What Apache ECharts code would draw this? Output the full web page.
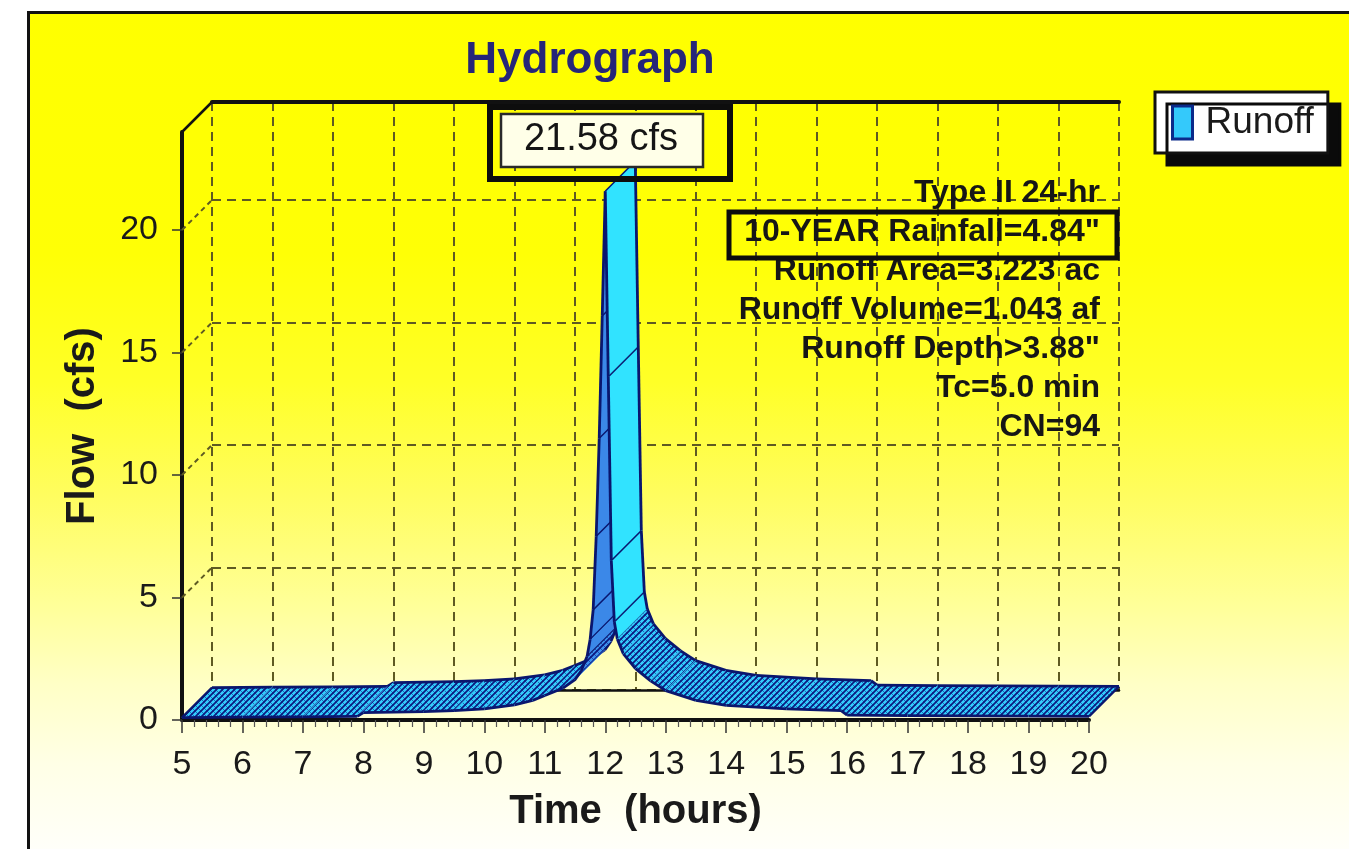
<!DOCTYPE html>
<html>
<head>
<meta charset="utf-8">
<title>Hydrograph</title>
<script src="https://cdn.jsdelivr.net/npm/echarts@6/dist/echarts.min.js"></script>
<style>
  html, body { margin: 0; padding: 0; background: #ffffff; }
  #frame {
    position: absolute; left: 27px; top: 11px; width: 1340px; height: 850px;
    border-left: 3px solid #111; border-top: 3px solid #111;
    background: linear-gradient(to bottom,
      #ffff00 0px, #ffff06 240px, #ffff28 370px, #fffd5e 480px,
      #ffff98 590px, #ffffc6 670px, #ffffe6 750px, #fffffa 838px);
  }
  #chart { position: absolute; left: 0; top: 0; width: 1349px; height: 849px; }
</style>
</head>
<body>
<div id="frame"></div>
<div id="chart"></div>
<script>
// ---- data -------------------------------------------------------------
const hours = [5.0, 6.0, 7.0, 7.9, 8.0, 9.0, 9.5, 10.0, 10.5, 10.8, 11.0, 11.3, 11.5, 11.6,
               11.7, 11.75, 11.8, 11.85, 11.9, 11.95, 12.0, 12.05, 12.1, 12.15, 12.2, 12.3,
               12.5, 12.75, 13.0, 13.5, 14.0, 15.0, 15.9, 16.0, 17.0, 18.0, 19.0, 20.0];
const flow  = [0.10, 0.12, 0.13, 0.15, 0.30, 0.34, 0.38, 0.45, 0.62, 0.80, 1.00, 1.30, 1.65, 2.00,
               2.60, 3.30, 4.50, 7.50, 11.5, 16.5, 21.58, 14.0, 6.50, 4.00, 3.30, 2.70,
               2.10, 1.60, 1.20, 0.80, 0.60, 0.45, 0.38, 0.20, 0.18, 0.17, 0.16, 0.15];
const xTickLabels = [5, 6, 7, 8, 9, 10, 11, 12, 13, 14, 15, 16, 17, 18, 19, 20];
const yTicks = [0, 5, 10, 15, 20];
const infoLines = [
  'Type II 24-hr',
  '10-YEAR Rainfall=4.84"',
  'Runoff Area=3.223 ac',
  'Runoff Volume=1.043 af',
  'Runoff Depth>3.88"',
  'Tc=5.0 min',
  'CN=94'
];
const seriesName = 'Runoff';
const flowUnit = 'cfs';

// ---- layout -----------------------------------------------------------
const FONT = '"Liberation Sans", Arial, sans-serif';
const DX = 30, DY = -30;          // depth offset of the back wall, px
const X_MIN = 5, X_MAX = 20, Y_MAX = 24;
const FRONT = { left: 182, top: 132, width: 907, height: 588 };
const BACK  = { left: FRONT.left + DX, top: FRONT.top + DY, width: FRONT.width, height: FRONT.height };

const gridLine = { color: '#5e5a22', width: 2, type: [9, 6] };

// hatched fills for the ribbon faces
function hatch(base, ink, faint) {
  const s = 6;
  const c = document.createElement('canvas');
  c.width = s; c.height = s;
  const g = c.getContext('2d');
  g.fillStyle = base; g.fillRect(0, 0, s, s);
  g.strokeStyle = faint; g.lineWidth = 1;
  g.beginPath();
  g.moveTo(0, 0); g.lineTo(s, s);
  g.moveTo(-1, s - 1); g.lineTo(1, s + 1);
  g.moveTo(s - 1, -1); g.lineTo(s + 1, 1);
  g.stroke();
  g.strokeStyle = ink; g.lineWidth = 1.7;
  g.beginPath();
  g.moveTo(0, s); g.lineTo(s, 0);
  g.moveTo(-1, 1); g.lineTo(1, -1);
  g.moveTo(s - 1, s + 1); g.lineTo(s + 1, s - 1);
  g.stroke();
  return c;
}
const flatFill = { image: hatch('#33cefd', '#0c1a80', 'rgba(12,26,128,0.55)'), repeat: 'repeat' };
const riseFill = { image: hatch('#3d92ee', '#0c1a80', 'rgba(12,26,128,0.55)'), repeat: 'repeat' };
const riseSolid = '#3b88e8';
const fallSolid = '#31e3ff';
const EDGE = '#0a166e';

// ribbon segments [t0, q0, t1, q1]
const segments = [];
for (let i = 0; i < hours.length - 1; i++) {
  segments.push([hours[i], flow[i], hours[i + 1], flow[i + 1]]);
}
const peak = Math.max(...flow);

function renderRibbon(params, api) {
  const i = params.dataIndex;
  const f0 = api.coord([api.value(0), api.value(1)]);
  const f1 = api.coord([api.value(2), api.value(3)]);
  const b0 = [f0[0] + DX, f0[1] + DY];
  const b1 = [f1[0] + DX, f1[1] + DY];
  const k = (f0[1] - f1[1]) / Math.max(0.001, f1[0] - f0[0]);
  let fill, stroke;
  if (k > 3) { fill = riseSolid; stroke = riseSolid; }
  else if (k < -3) { fill = fallSolid; stroke = fallSolid; }
  else if (k > 0.5) { fill = riseFill; stroke = '#3d92ee'; }
  else { fill = flatFill; stroke = '#33cefd'; }
  const base = i * 10;
  const children = [
    { type: 'polygon', z2: base, shape: { points: [f0, f1, b1, b0] },
      style: { fill: fill, stroke: stroke, lineWidth: 0.8 } },
    { type: 'polyline', z2: base + 1, shape: { points: [f0, f1] },
      style: { fill: null, stroke: EDGE, lineWidth: 2.8 } },
    { type: 'polyline', z2: base + 2, shape: { points: [b0, b1] },
      style: { fill: null, stroke: EDGE, lineWidth: 2.8 } }
  ];
  const steep = Math.abs(k) > 3;
  if (i === 0 || steep) {
    children.push({ type: 'line', z2: base + 3,
      shape: { x1: f0[0], y1: f0[1], x2: b0[0], y2: b0[1] },
      style: { stroke: EDGE, lineWidth: i === 0 ? 2.5 : 1.2 } });
  }
  if (i === segments.length - 1 || steep) {
    children.push({ type: 'line', z2: base + 4,
      shape: { x1: f1[0], y1: f1[1], x2: b1[0], y2: b1[1] },
      style: { stroke: EDGE, lineWidth: i === segments.length - 1 ? 2.5 : 1.2 } });
  }
  return { type: 'group', children: children };
}

// dashed lines on the left side wall, plus the solid top corner edge
function renderWall(params, api) {
  const v = api.value(1);
  const p = api.coord([api.value(0), v]);
  const top = v >= Y_MAX;
  return {
    type: 'line',
    shape: { x1: p[0], y1: p[1], x2: p[0] + DX, y2: p[1] + DY },
    style: top ? { stroke: '#111', lineWidth: 2.5 }
               : { stroke: gridLine.color, lineWidth: 2, lineDash: [5, 4] }
  };
}

const wallData = yTicks.filter(v => v > 0).map(v => [X_MIN, v]).concat([[X_MIN, Y_MAX]]);

const chart = echarts.init(document.getElementById('chart'), null, { renderer: 'canvas' });

const info = infoLines.map((t, i) => ({
  type: 'text', z: 50,
  style: { text: t, x: 1100, y: 193 + i * 39, align: 'right', verticalAlign: 'middle',
           font: 'bold 32px ' + FONT, fill: '#161616' }
}));

chart.setOption({
  animation: false,
  backgroundColor: 'transparent',
  textStyle: { fontFamily: FONT },
  title: {
    text: 'Hydrograph', left: 585, top: 34, textAlign: 'center',
    textStyle: { fontSize: 44, fontWeight: 'bold', color: '#262678', fontFamily: FONT }
  },
  legend: {
    data: [seriesName], left: 1155, top: 92, orient: 'vertical',
    padding: [12, 14, 12, 16],
    backgroundColor: '#ffffff', borderColor: '#111', borderWidth: 3,
    shadowColor: '#0a0a0a', shadowBlur: 0, shadowOffsetX: 12, shadowOffsetY: 12,
    icon: 'rect', itemWidth: 20, itemHeight: 33,
    itemStyle: { color: '#34c9fb', borderColor: '#0b2a8a', borderWidth: 3 },
    textStyle: { fontSize: 37, color: '#1a1a1a', fontFamily: FONT, padding: [0, 0, 0, 8] }
  },
  grid: [
    { left: FRONT.left, top: FRONT.top, width: FRONT.width, height: FRONT.height, containLabel: false },
    { left: BACK.left, top: BACK.top, width: BACK.width, height: BACK.height, containLabel: false }
  ],
  xAxis: [
    { type: 'value', gridIndex: 0, min: X_MIN, max: X_MAX, interval: 1,
      axisLine: { show: true, onZero: false, lineStyle: { color: '#111', width: 4 } },
      axisTick: { show: true, length: 13, lineStyle: { color: '#333', width: 1.5 } },
      minorTick: { show: true, splitNumber: 5, length: 7, lineStyle: { color: '#555', width: 1.2 } },
      splitLine: { show: false },
      axisLabel: { fontSize: 34, color: '#1a1a1a', margin: 28, fontFamily: FONT,
                   formatter: v => (xTickLabels.includes(v) ? String(v) : '') },
      name: 'Time  (hours)', nameLocation: 'middle', nameGap: 72,
      nameTextStyle: { fontSize: 40, fontWeight: 'bold', color: '#1a1a1a', fontFamily: FONT } },
    { type: 'value', gridIndex: 1, min: X_MIN, max: X_MAX, interval: 1,
      axisLine: { show: true, onZero: false, lineStyle: { color: '#111', width: 2.5 } },
      axisTick: { show: false }, axisLabel: { show: false },
      splitLine: { show: true, lineStyle: gridLine } },
    { type: 'value', gridIndex: 1, position: 'top', min: X_MIN, max: X_MAX, interval: 1,
      axisLine: { show: true, onZero: false, lineStyle: { color: '#111', width: 4 } },
      axisTick: { show: false }, axisLabel: { show: false }, splitLine: { show: false } }
  ],
  yAxis: [
    { type: 'value', gridIndex: 0, min: 0, max: Y_MAX, interval: 5,
      axisLine: { show: true, onZero: false, lineStyle: { color: '#111', width: 4 } },
      axisTick: { show: true, length: 10, customValues: yTicks, lineStyle: { color: '#333', width: 1.5 } },
      splitLine: { show: false },
      axisLabel: { fontSize: 34, color: '#1a1a1a', margin: 24, fontFamily: FONT, customValues: yTicks,
                   formatter: v => (yTicks.includes(v) ? String(v) : '') },
      name: 'Flow  (cfs)', nameLocation: 'middle', nameGap: 79, nameRotate: 90,
      nameTextStyle: { fontSize: 40, fontWeight: 'bold', color: '#1a1a1a', fontFamily: FONT } },
    { type: 'value', gridIndex: 1, min: 0, max: Y_MAX, interval: 5,
      axisLine: { show: false }, axisTick: { show: false }, axisLabel: { show: false },
      splitLine: { show: true, lineStyle: gridLine } }
  ],
  series: [
    { name: 'wall', type: 'custom', xAxisIndex: 0, yAxisIndex: 0, silent: true, z: 1,
      renderItem: renderWall, data: wallData },
    { name: seriesName, type: 'custom', xAxisIndex: 0, yAxisIndex: 0, z: 3,
      itemStyle: { color: '#34c9fb', borderColor: '#0b2a8a', borderWidth: 3 },
      renderItem: renderRibbon, data: segments, clip: false }
  ],
  graphic: [
    { type: 'rect', z: 60, shape: { x: 490, y: 107, width: 240, height: 72 },
      style: { fill: 'rgba(0,0,0,0)', stroke: '#0d0d0d', lineWidth: 6 } },
    { type: 'rect', z: 61, shape: { x: 501, y: 114, width: 202, height: 53 },
      style: { fill: '#ffffe8', stroke: '#2a2a2a', lineWidth: 2.5 } },
    { type: 'text', z: 62,
      style: { text: peak.toFixed(2) + ' ' + flowUnit, x: 601, y: 140, align: 'center', verticalAlign: 'middle',
               font: '38px ' + FONT, fill: '#151515' } },
    { type: 'rect', z: 60, shape: { x: 729, y: 212, width: 388, height: 46 },
      style: { fill: 'rgba(0,0,0,0)', stroke: '#0d0d0d', lineWidth: 5 } }
  ].concat(info)
});
</script>
</body>
</html>
